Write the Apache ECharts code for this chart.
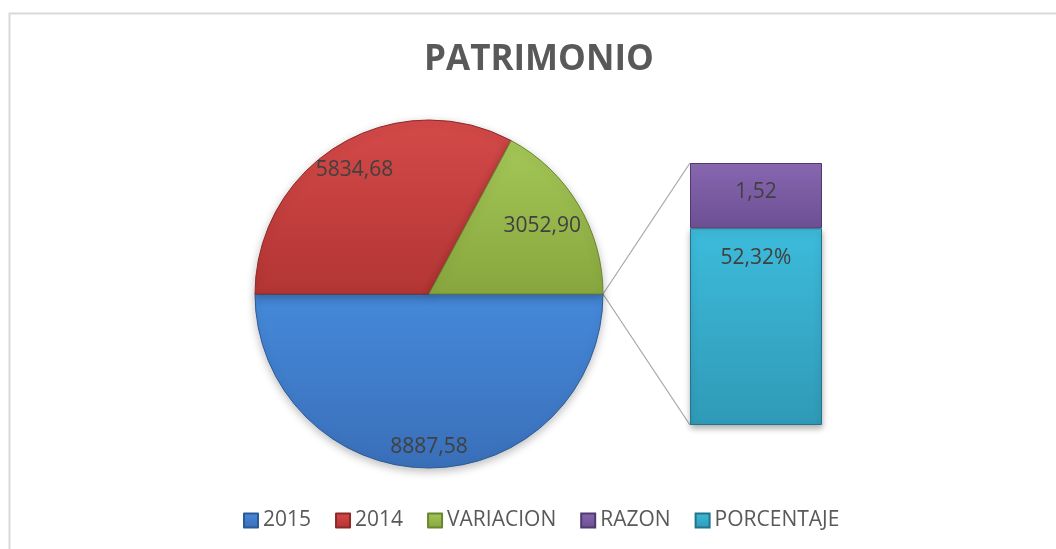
<!DOCTYPE html>
<html>
<head>
<meta charset="utf-8">
<script src="https://cdn.jsdelivr.net/npm/echarts@6/dist/echarts.min.js"></script>
<style>
html,body{margin:0;padding:0;background:#fff;}
#chart{width:1056px;height:549px;}
</style>
</head>
<body>
<div id="chart"></div>
<script>
// ---- data ----
var pieNames = ['2015', '2014', 'VARIACION'];
var pieValues = [8887.58, 5834.68, 3052.90];
var barNames = ['RAZON', 'PORCENTAJE'];
var barLabels = ['1,52', '52,32%'];
var barValues = [1.52, 0.5232];
// share of the secondary bar's height taken by each segment, as drawn in the picture (%)
var barShares = [24.9, 75.1];
var legendNames = ['2015', '2014', 'VARIACION', 'RAZON', 'PORCENTAJE'];
var titleText = 'PATRIMONIO';

// ---- layout ----
var FONT = '"Open Sans", "Liberation Sans", sans-serif';
var pieCx = 429, pieCy = 294, pieR = 174;
var labelRadii = [300, 284, 258]; // outer radius of invisible label rings (label sits at half)
var barLeft = 690, barTop = 163, barW = 132, barH = 262;

function grad(top, bottom) {
  return {type: 'linear', x: 0, y: 0, x2: 0, y2: 1,
    colorStops: [{offset: 0, color: top}, {offset: 1, color: bottom}]};
}
var pieColors = [grad('#4589da', '#3a6fb9'), grad('#d44a49', '#b23534'), grad('#a5c657', '#87a73e')];
var pieBorders = ['#2c5a96', '#8e2928', '#6a8530'];
var barColors = [grad('#8767b0', '#6c4f93'), grad('#3dbbdb', '#2f9ab7')];
var barBorders = ['#4f3a6e', '#23748a'];

function fmt(v) {
  return v.toFixed(2).replace('.', ',');
}

var pieData = pieNames.map(function (n, i) {
  return {name: n, value: pieValues[i],
    itemStyle: {color: pieColors[i], borderColor: pieBorders[i], borderWidth: 1}};
});

function labelPie(radius, idx) {
  return {
    type: 'pie', silent: true, center: [pieCx, pieCy], radius: [0, radius],
    startAngle: 0, clockwise: true, z: 5,
    itemStyle: {color: 'rgba(0,0,0,0)', borderWidth: 0},
    label: {show: true, position: 'inside', color: '#404040', fontFamily: FONT, fontSize: 21,
      formatter: function (p) { return p.dataIndex === idx ? fmt(p.value) : ''; }},
    labelLine: {show: false},
    emphasis: {disabled: true},
    data: pieNames.map(function (n, i) { return {name: n, value: pieValues[i]}; })
  };
}

var chart = echarts.init(document.getElementById('chart'));
var rightX = pieCx + pieR;
chart.setOption({
  animation: false,
  backgroundColor: '#ffffff',
  title: {text: titleText, left: 419, top: 38,
    textStyle: {fontFamily: FONT, fontSize: 35, fontWeight: 'bold', color: '#595959'}},
  legend: {data: legendNames, left: 238, top: 505, itemWidth: 14, itemHeight: 14, itemGap: 24,
    icon: 'rect', selectedMode: false,
    textStyle: {fontFamily: FONT, fontSize: 21, color: '#595959'}},
  grid: {left: barLeft, top: barTop, width: barW, height: barH, containLabel: false},
  xAxis: {type: 'category', data: ['x'], show: false},
  yAxis: {type: 'value', min: 0, max: 100, show: false},
  graphic: [
    {type: 'rect', shape: {x: 9.5, y: 13.5, width: 1200, height: 700}, z: -10,
      style: {fill: 'none', stroke: '#d9d9d9', lineWidth: 2}},
    {type: 'line', shape: {x1: rightX, y1: pieCy, x2: barLeft, y2: barTop}, z: 0,
      style: {stroke: '#a6a6a6', lineWidth: 1.2}},
    {type: 'line', shape: {x1: rightX, y1: pieCy, x2: barLeft, y2: barTop + barH}, z: 0,
      style: {stroke: '#a6a6a6', lineWidth: 1.2}}
  ],
  series: [
    {type: 'pie', name: 'main', center: [pieCx, pieCy], radius: [0, pieR],
      startAngle: 0, clockwise: true, z: 2,
      label: {show: false}, labelLine: {show: false},
      itemStyle: {shadowBlur: 8, shadowColor: 'rgba(0,0,0,0.25)', shadowOffsetY: 3},
      emphasis: {disabled: true},
      data: pieData},
    labelPie(labelRadii[0], 0),
    labelPie(labelRadii[1], 1),
    labelPie(labelRadii[2], 2),
    {type: 'bar', name: barNames[1], stack: 's', barWidth: '100%',
      itemStyle: {color: barColors[1], borderColor: barBorders[1], borderWidth: 1,
        shadowBlur: 6, shadowColor: 'rgba(0,0,0,0.3)', shadowOffsetY: 3},
      label: {show: true, position: 'insideTop', distance: 19, color: '#404040',
        fontFamily: FONT, fontSize: 21, formatter: function () { return barLabels[1]; }},
      data: [barShares[1]]},
    {type: 'bar', name: barNames[0], stack: 's', barWidth: '100%',
      itemStyle: {color: barColors[0], borderColor: barBorders[0], borderWidth: 1},
      label: {show: true, position: 'insideTop', distance: 19, color: '#404040',
        fontFamily: FONT, fontSize: 21, formatter: function () { return barLabels[0]; }},
      data: [barShares[0]]}
  ]
});
</script>
</body>
</html>
